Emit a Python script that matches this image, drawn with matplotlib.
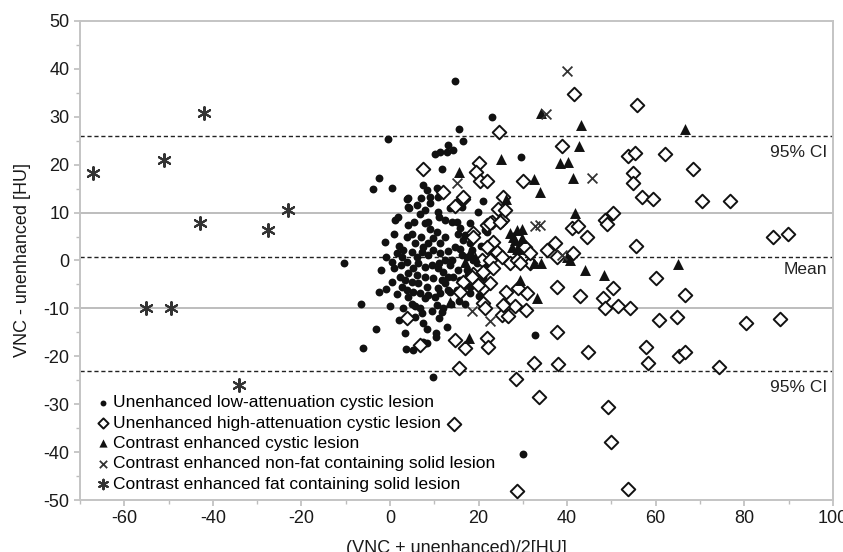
import matplotlib
matplotlib.use("Agg")
import matplotlib.pyplot as plt
from matplotlib.ticker import MultipleLocator

plt.rcParams["font.family"] = ["Liberation Sans", "DejaVu Sans"]
plt.rcParams["axes.unicode_minus"] = False

# Bland-Altman data: (mean of VNC and unenhanced, difference)
low_att = [
    (14.7, 37.5), (23, 30.0), (15.6, 27.4), (16.4, 25.0), (-0.4, 25.3), (-2.4, 17.3),
    (-3.8, 14.9), (0.4, 15.1), (3.9, 12.8), (4.2, 10.9), (11.8, 19.1), (10.2, 22.2),
    (11.3, 22.7), (13.2, 24.1), (12.8, 22.7), (7.5, 15.8), (8.3, 14.7), (9, 13.3),
    (10.5, 15.1), (10.9, 13.3), (9, 11.9), (14.3, 23.1), (29.6, 21.5), (21.1, 12.4),
    (19.9, 10.2), (16.2, 11.1),
    (-1.1, 3.9), (-10.4, -0.5), (-0.8, 0.8), (0.4, -0.3), (2.3, -3.4), (-6.5, -9.1),
    (-3.2, -14.4), (3.4, -15.2), (1.1, 8.5), (1.9, 9.1), (3.8, 5.0), (-6.0, -18.3),
    (3.6, -18.5), (5.2, -18.7), (8.3, -17.2), (10.4, -15.2), (10.4, -16.0), (9.8, -24.3),
    (32.7, -15.6), (30, -40.3), (7.2, -11), (8.3, -14.2), (7.5, -17), (11.7, -10.7),
    (4.1, 13), (4.0, 11.2), (6.8, 9.8), (10.9, 10.2), (7.9, 7.8), (8.6, 8.1), (10.5, 6),
    (9.8, 4.6), (8.6, 3.6), (11.3, 3.6), (5.6, 3.6), (7.5, 2.9), (1.5, 1.5), (2.6, 0.8),
    (3.8, -0.3), (4.9, 1.8), (6, 0.8), (7.2, 1.8), (8.6, 1.1), (9.8, 2.2), (11.3, 1.5),
    (12.4, 0.1), (6.4, -0.6), (7.9, -1.3), (9.4, -0.9), (10.9, -1.6), (12, -2.3),
    (5.3, -1.6), (4.1, -2.7), (6, -3), (7.9, -3.4), (9.8, -3.7), (11.7, -4.1), (3.4, -4.1),
    (4.9, -4.4), (6.4, -4.8), (8.3, -5.5), (2.6, -5.5), (3.8, -6.2), (5.3, -6.5),
    (6.8, -6.8), (8.6, -7.2), (10.2, -7.6), (11.3, -6.8), (4.1, -7.6), (7.9, -7.9),
    (10.9, -5.8), (12.4, -4.8), (13.2, -6.2), (5.6, -9.6), (6.8, -10), (5.6, -11.7),
    (10.5, -9.3), (12, -10), (12.8, -13.8),
    (18.1, 7.9), (15.1, 8.1), (15.8, 6.7), (21.8, 6), (16.5, 4.3), (14.7, 2.9), (16.2, 1.1),
    (13.9, 0.1), (18.4, 2.2), (18.8, 0.1), (19.6, -0.6), (17.3, -2), (15.8, -4.1),
    (14.3, -3.4), (21.1, -3.4), (18.1, -5.5), (15.1, -6.2), (13.9, 8.1), (15.4, 5.6),
    (16.9, 5.3), (18.1, 3.6), (15.8, 2.5), (17.3, 0.8), (13.5, -0.9), (15.4, -2),
    (17.7, -3), (16.5, -5.5), (13.5, -6.5), (18.1, -6.8), (21.4, 6.4), (23.3, 1.5),
    (2, 3), (3, 2.2), (5, 5.5), (7, 5), (9, 6.5), (12.5, 4.8), (13, 2), (11, -0.5),
    (13, -3.5), (1, -1.5), (2.5, -1), (0.5, -4.5), (1.5, -7), (5, -9), (3, -10),
    (9.5, -10.5), (11, -12), (7.5, -13), (2, -12.5), (-1, -6), (-2, -2), (1, 5.5),
    (4, 7.5), (6, 11.5), (8, 10.5), (12.5, 8.5), (13.5, 11), (11, 9), (7, 13), (5.5, 8),
    (-2.5, -6.5), (0, -9.5), (13.8, -9), (15.5, -8.5), (17, -9), (19.5, -4.5),
    (20, -7.5), (20.5, 3), (22, -1), (19, 5.5),
]

high_att = [
    (41.5, 34.8), (55.8, 32.4), (24.7, 26.9), (38.8, 23.8), (53.8, 21.8), (55.3, 22.5),
    (62.2, 22.2), (68.5, 19), (54.9, 18.2), (54.9, 16.1), (56.8, 13.2), (59.4, 12.8),
    (70.4, 12.4), (76.7, 12.4), (20.2, 20.3), (19.4, 18.5), (20.3, 16.5), (21.8, 16.5),
    (30.1, 16.5), (7.5, 19.2), (12, 14.4), (16.5, 12.8), (14.7, 11.4), (25.6, 13.3),
    (24.4, 10.7), (50.4, 9.9), (48.5, 8.5), (48.9, 7.6), (41, 6.7), (42.5, 7.1),
    (44.4, 4.8), (55.5, 3), (86.5, 4.8), (89.9, 5.5), (60, -3.7), (66.6, -7.2),
    (50.4, -5.8), (48.1, -7.9), (48.6, -10), (51.5, -9.4), (54.3, -9.9), (42.9, -7.4),
    (60.8, -12.4), (64.9, -11.9), (80.4, -13), (88, -12.2), (41.4, 1.5), (37.6, -5.6),
    (37.6, -15), (44.8, -19), (57.9, -18), (58.3, -21.5), (65.3, -19.9), (66.6, -19),
    (74.3, -22.2), (32.4, -21.3), (38, -21.6), (28.4, -24.8), (33.7, -28.4),
    (49.3, -30.5), (50, -37.8), (14.4, -34.2), (28.6, -48.1), (53.7, -47.6),
    (15.6, -22.4), (14.7, -16.7), (16.9, -18.3), (21.8, -16.2), (22.2, -18.1),
    (26, -9.6), (28.2, -9.6), (30.7, -10.3), (25.2, -11.4), (26.7, -11.6), (21.1, -8.9),
    (21.4, -10), (26.3, -6.5), (29, -5.8), (30.9, -6.7), (18.8, -2.8), (16.5, -4.4),
    (15.8, -6.5), (21.1, -5.8), (22.6, -4.8), (6.8, -17.6), (3.9, -12.1),
    (16.5, 13.3), (25.2, 8.5), (23, 8.1), (21.8, 7.4), (18.8, 5.7), (23.3, 3.9),
    (21.8, 2.9), (24.1, 1.8), (25.2, 0.8), (20.7, 0.1), (22.6, 0.1), (23.3, -1.6),
    (21.1, -2.3), (18.4, -3.4), (19.9, -5.1), (27.1, -0.6), (28.6, 0.1), (31.6, -0.6),
    (30.1, 2.9), (25.6, -9.3), (35.4, 2.2), (37.2, 3.6), (37.6, 0.8), (30.5, 2.9),
    (31.6, 1.5), (29.3, -0.6), (26, 10.5), (22.6, 7.9), (24.8, 8.1), (18.8, 5),
]

enh_cystic = [
    (34.2, 30.7), (43.1, 28.3), (66.6, 27.4), (42.7, 24), (25.1, 21.1), (38.4, 20.3),
    (40.3, 20.5), (15.6, 18.5), (41.4, 17.2), (32.4, 17), (33.9, 14.2), (26.2, 12.9),
    (41.8, 9.9), (65.1, -0.8), (28.6, 6.4), (29.7, 6.5), (27.1, 5.7), (28.2, 4.3),
    (34.2, -0.6), (32.4, -0.6), (40.6, 0.1), (39.9, 0.8), (44, -2), (48.4, -3),
    (29.3, -4.1), (33.1, -7.9), (13.5, -8.6), (17.9, -16.2), (27.8, 5), (29.7, 4.6),
    (27.5, 2.9), (28.6, 2.5), (19.2, 0.8), (16.9, -0.3), (18.1, 1.8),
]

enh_solid = [
    (39.9, 39.6), (35.2, 30.6), (45.5, 17.2), (15.1, 16.2), (32.7, 7.1), (33.9, 7.4),
    (18.4, -10.5), (22.6, -12.7), (38.8, 1.1),
]

fat_solid = [
    (-67, 18.3), (-51, 21), (-42, 30.7), (-43, 7.8), (-27.5, 6.4), (-23, 10.5),
    (-55, -10), (-49.5, -10), (-34, -26),
]

mean_diff = 0.8
upper_loa = 26.0
lower_loa = -23.1

labels = [
    "Unenhanced low-attenuation cystic lesion",
    "Unenhanced high-attenuation cystic lesion",
    "Contrast enhanced cystic lesion",
    "Contrast enhanced non-fat containing solid lesion",
    "Contrast enhanced fat containing solid lesion",
]


def xy(points):
    return [p[0] for p in points], [p[1] for p in points]


fig = plt.figure(figsize=(8.43, 5.52), dpi=100)
ax = fig.add_axes([0.0949, 0.0942, 0.8931, 0.8678])

ax.axhline(10, color="#bdbdbd", lw=1.4, zorder=1)
ax.axhline(-10, color="#bdbdbd", lw=1.4, zorder=1)
for yv in (upper_loa, mean_diff, lower_loa):
    ax.axhline(yv, color="#222222", lw=1.0, ls=(0, (3, 2)), zorder=1)

ink = "#111111"
x, y = xy(low_att)
ax.scatter(x, y, s=32, marker="o", color=ink, lw=0, zorder=3, label=labels[0])
x, y = xy(high_att)
ax.scatter(x, y, s=48, marker="D", facecolor="white", edgecolor=ink, lw=1.4,
           zorder=3, label=labels[1])
x, y = xy(enh_cystic)
ax.scatter(x, y, s=62, marker="^", color=ink, lw=0, zorder=4, label=labels[2])
x, y = xy(enh_solid)
ax.scatter(x, y, s=50, marker="x", color="#333333", lw=1.3, zorder=4, label=labels[3])
x, y = xy(fat_solid)
ax.scatter(x, y, s=85, marker=(6, 2, 0), color="#333333", lw=1.5, zorder=4,
           label=labels[4])

for yv, txt in ((22.6, "95% CI"), (-1.8, "Mean"), (-26.6, "95% CI")):
    ax.text(0.992, (yv + 50) / 100, txt, transform=ax.transAxes, ha="right",
            va="center", fontsize=12.5, color="#222222")

ax.set_xlim(-70, 100)
ax.set_ylim(-50, 50)
ax.xaxis.set_major_locator(MultipleLocator(20))
ax.xaxis.set_minor_locator(MultipleLocator(10))
ax.yaxis.set_major_locator(MultipleLocator(10))
ax.yaxis.set_minor_locator(MultipleLocator(5))
ax.tick_params(which="both", direction="out", color="#bdbdbd", labelsize=13,
               labelcolor="#1a1a1a")
ax.tick_params(which="major", length=4, width=1.2)
ax.tick_params(which="minor", length=3, width=1.0)
for side in ax.spines.values():
    side.set_color("#c4c4c4")
    side.set_linewidth(1.4)

ax.set_xlabel("(VNC + unenhanced)/2[HU]", fontsize=13, color="#1a1a1a", labelpad=9)
ax.set_ylabel("VNC - unenhanced [HU]", fontsize=13, color="#1a1a1a", labelpad=9)

ax.legend(loc="upper left", bbox_to_anchor=(0.024, 0.219), frameon=False,
          fontsize=12.5, handlelength=0.6, handletextpad=0.25, labelspacing=0.3,
          borderpad=0, borderaxespad=0, scatterpoints=1, markerscale=0.75)

fig.savefig("out.png", dpi=100)
